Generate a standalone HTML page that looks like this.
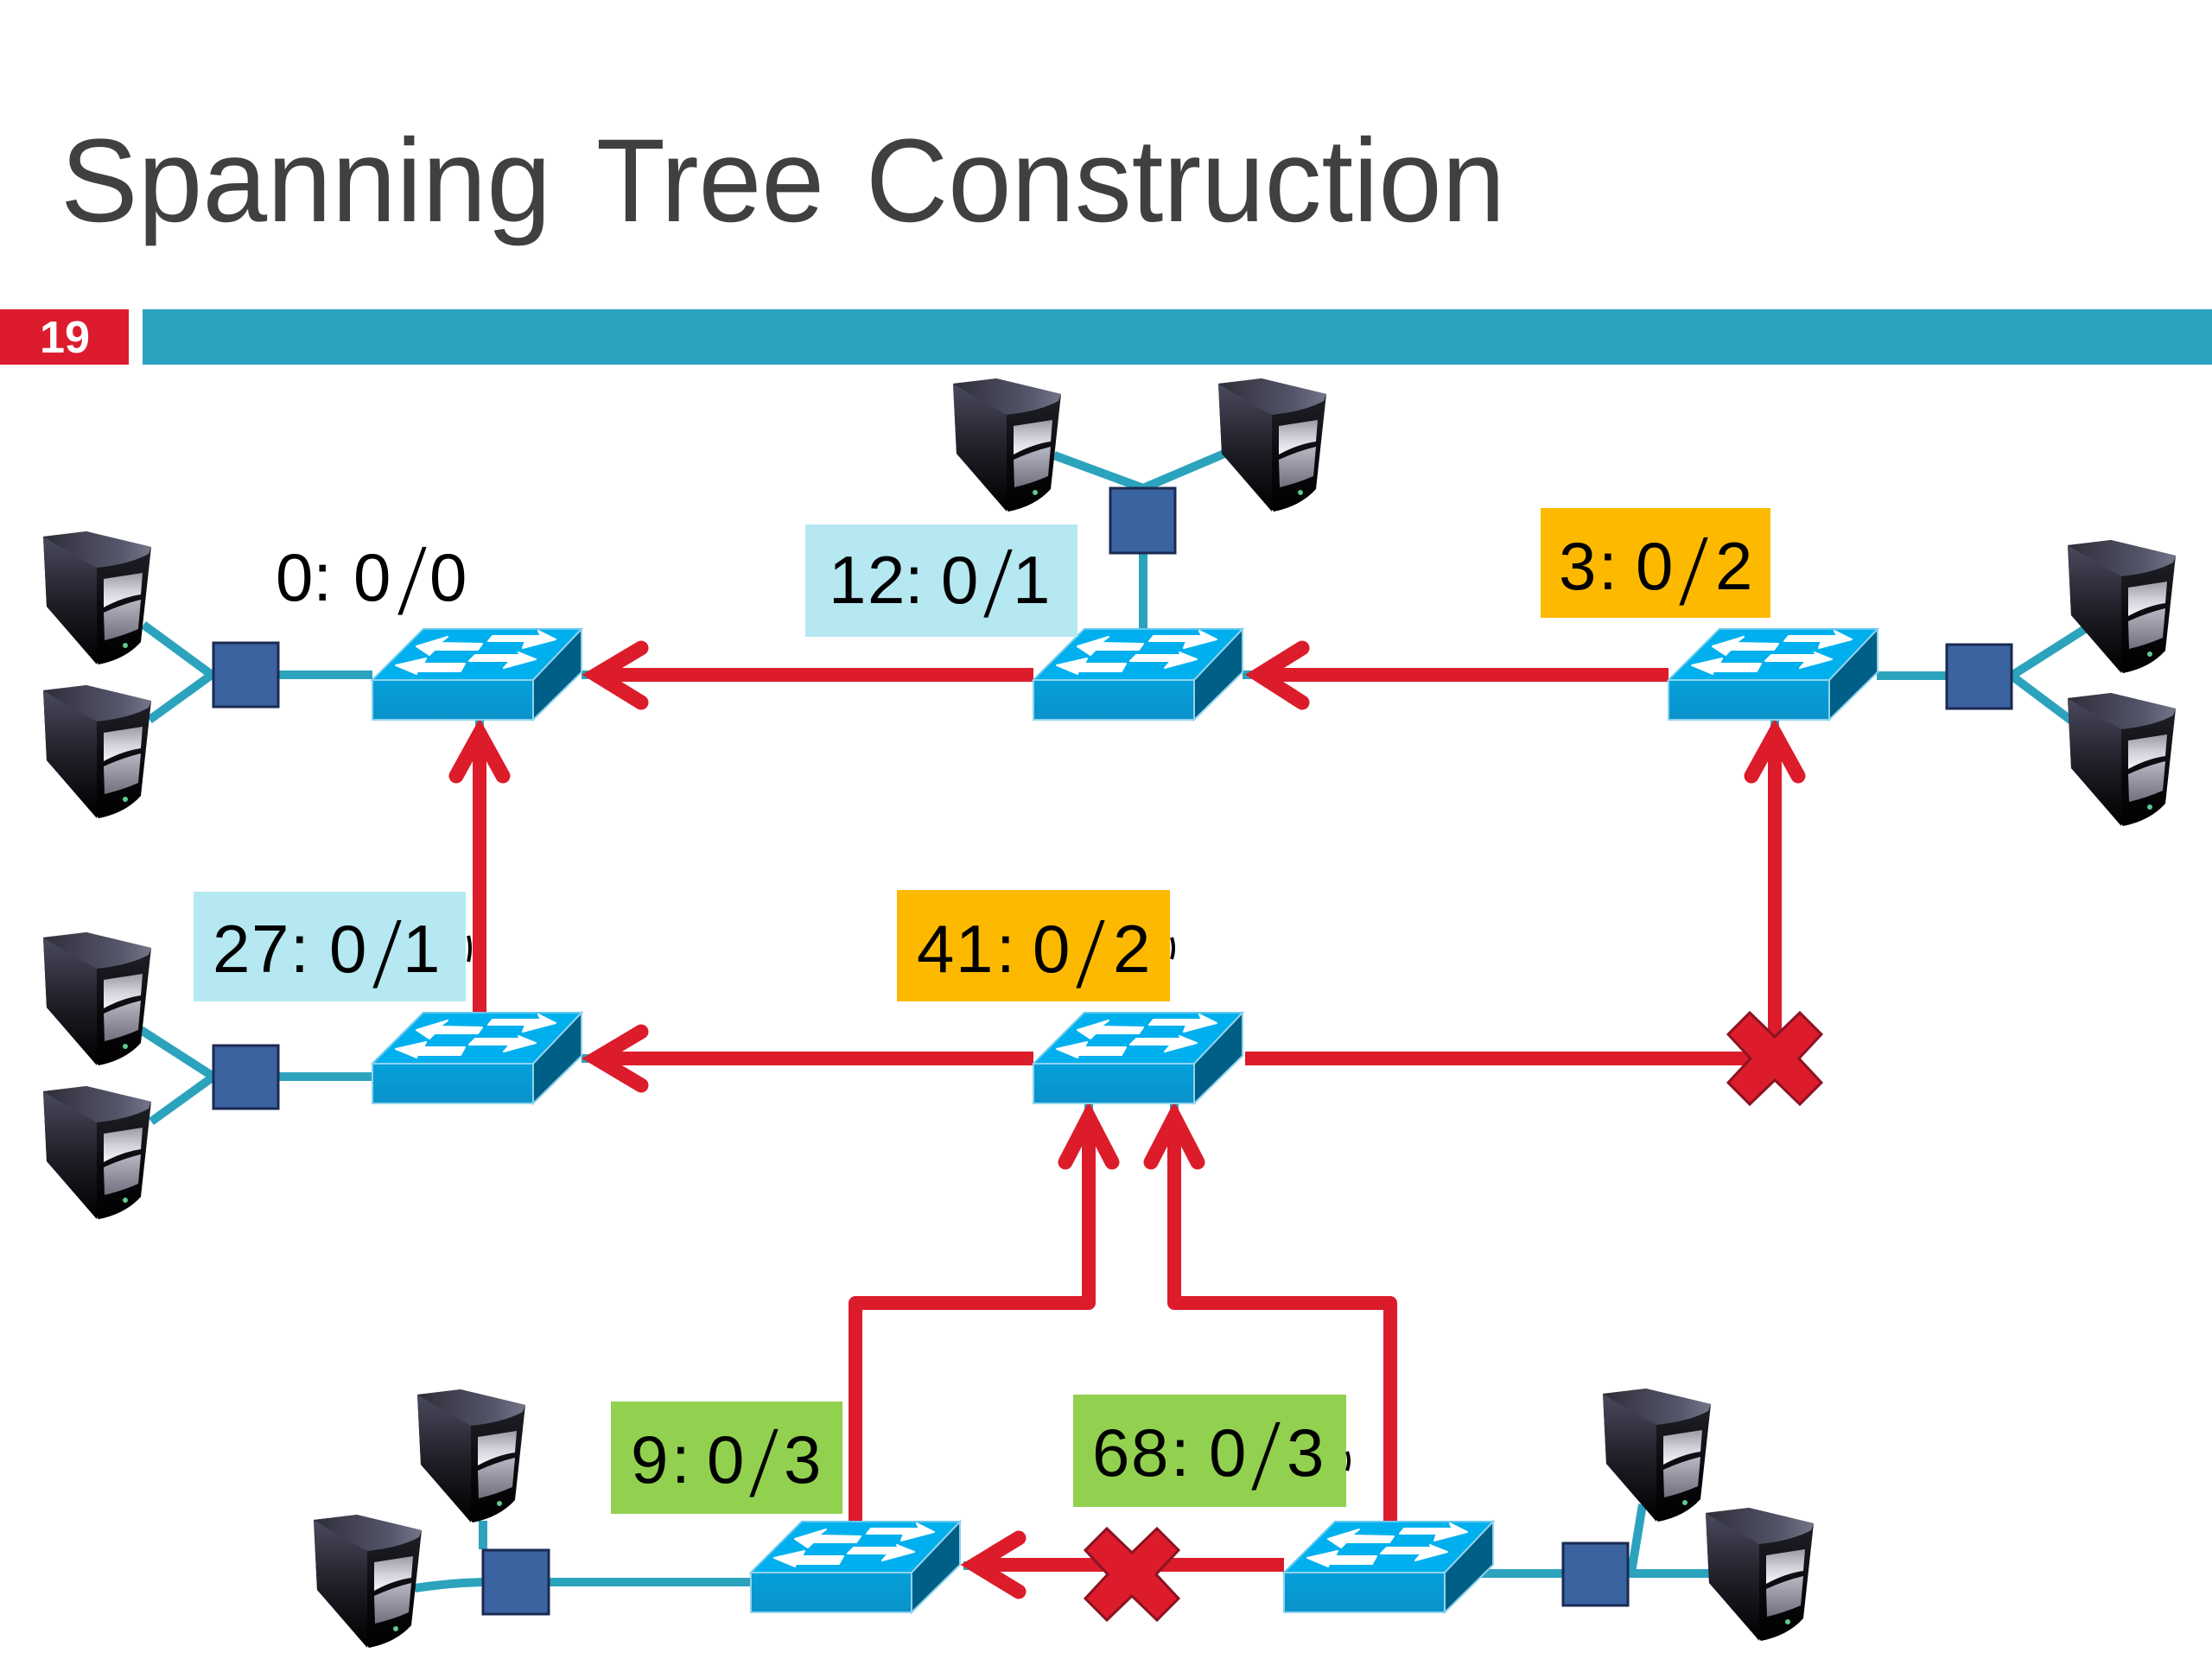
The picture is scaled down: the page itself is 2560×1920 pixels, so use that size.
<!DOCTYPE html>
<html><head><meta charset="utf-8"><title>Spanning Tree Construction</title>
<style>
html,body{margin:0;padding:0;background:#fff;width:2560px;height:1920px;overflow:hidden}
svg{display:block}
text{font-family:"Liberation Sans",sans-serif}
.l{font-size:78px;fill:#000}
.s{font-size:114px;fill:#000;stroke-width:5px}
.t{stroke:#2ba3bd;stroke-width:10;fill:none}
.r{stroke:#dc1c2b;stroke-width:16;fill:none;stroke-linejoin:round}
.h{stroke:#dc1c2b;stroke-width:17;fill:none;stroke-linecap:round;stroke-linejoin:miter;stroke-miterlimit:8}
.q{fill:#3a63a0;stroke:#1b2a52;stroke-width:3}
</style></head><body>
<svg width="2560" height="1920" viewBox="0 0 2560 1920" xmlns="http://www.w3.org/2000/svg">
<defs>
<linearGradient id="g1" x1="0" y1="0" x2="0" y2="1"><stop offset="0" stop-color="#4a4a5e"/><stop offset=".55" stop-color="#1c1c24"/><stop offset="1" stop-color="#000"/></linearGradient>
<linearGradient id="g2" x1="0" y1="0" x2="0" y2="1"><stop offset="0" stop-color="#25252e"/><stop offset=".6" stop-color="#0a0a0e"/><stop offset="1" stop-color="#000"/></linearGradient>
<linearGradient id="g3" x1="0" y1="0" x2="1" y2="0"><stop offset="0" stop-color="#2e2e3a"/><stop offset=".7" stop-color="#55556a"/><stop offset="1" stop-color="#75758a"/></linearGradient>
<linearGradient id="g4" x1="0" y1="0" x2="0" y2="1"><stop offset="0" stop-color="#9a9aa5"/><stop offset=".5" stop-color="#d0d0da"/><stop offset="1" stop-color="#f6f6fc"/></linearGradient>
<linearGradient id="g5" x1="0" y1="0" x2="0" y2="1"><stop offset="0" stop-color="#b8b8c4"/><stop offset="1" stop-color="#70707e"/></linearGradient>
<linearGradient id="g6" x1="0" y1="0" x2="0" y2="1"><stop offset="0" stop-color="#05a0da"/><stop offset="1" stop-color="#0a92ca"/></linearGradient>
<g id="srv">
<path d="M0 6 L50 0 L125 18 L113 128 Q95 148 64 154 L4 87 Z" fill="url(#g2)"/>
<path d="M0 6 L62 42 L62 154 L4 87 Z" fill="url(#g1)"/>
<path d="M0 6 L50 0 L125 18 L122 26 Q100 38 62 42 Q30 25 0 6 Z" fill="url(#g3)"/>
<path d="M70 55 L115 48 L113 73 Q92 76 70 88 Z" fill="url(#g4)"/>
<path d="M70 94 Q92 84 113 79 L110 113 Q92 121 71 126 Z" fill="url(#g5)"/>
<circle cx="95" cy="132" r="3" fill="#5fc98f"/>
</g>
<g id="sw">
<path d="M0 59 L59 0 L242 0 L186 59 Z" fill="#00b0ee" stroke="#63c8ee" stroke-width="2"/>
<path d="M0 59 H186 V105 H0 Z" fill="url(#g6)" stroke="#8fd3ee" stroke-width="2"/>
<path d="M186 59 L242 0 V50 L186 105 Z" fill="#005f86" stroke="#8fd3ee" stroke-width="2"/>
<g fill="#fff" stroke="#fff" stroke-width="2" stroke-linejoin="round">
<path d="M51 20 L87 9 L78 16 L127 17 L122 24 L72 24 L66 30 Z"/>
<path d="M27 42 L62 34 L59 40 L107 40 L102 49 L52 49 L51 52 Z"/>
<path d="M212 12 L192 2 L195 8 L139 8 L134 14 L177 14 L174 22 Z"/>
<path d="M189 35 L169 27 L171 30 L119 30 L112 37 L159 37 L152 45 Z"/>
</g>
</g>
<path id="x" d="M-29 -53 L0 -25 L29 -53 L54 -28 L28 0 L54 28 L29 53 L0 25 L-29 53 L-54 28 L-28 0 L-54 -28 Z" fill="#dc1c2b" stroke="#8b1322" stroke-width="3"/>
</defs>

<!-- title -->
<g font-size="137" fill="#404040">
<text x="70" y="256" textLength="568" lengthAdjust="spacingAndGlyphs">Spanning</text>
<text x="690" y="256" textLength="264" lengthAdjust="spacingAndGlyphs">Tree</text>
<text x="1002" y="256" textLength="740" lengthAdjust="spacingAndGlyphs">Construction</text>
</g>
<rect x="0" y="358" width="149" height="64" fill="#dc1c2e"/>
<rect x="165" y="358" width="2395" height="64" fill="#2ca1bf"/>
<text x="46" y="408" font-size="52" fill="#fff" font-weight="bold" textLength="58" lengthAdjust="spacingAndGlyphs">19</text>

<!-- teal links -->
<g class="t">
<path d="M166 723 L245 781 M173 833 L245 781 M322 781 H431"/>
<path d="M1220 527 L1323 565 M1417 525 L1323 565 M1323 640 V728"/>
<path d="M2172 782 H2253 M2328 782 L2413 728 M2328 782 L2400 836"/>
<path d="M163 1192 L247 1246 M175 1298 L247 1246 M322 1246 H431"/>
<path d="M559 1760 V1793 M480 1838 Q520 1832 559 1831 M635 1831 H869"/>
<path d="M1712 1821 H1808 M1885 1821 H1985 M1888 1820 L1901 1741"/>
<path d="M673 781 H690 M1438 781 H1452 M555 833 V845 M1260 1277 V1290 M1359 1277 V1290 M2054 833 V845 M673 1225 H690 M1115 1812 H1128"/>
</g>

<!-- red links -->
<g>
<path class="r" d="M695 781 H1196 M1462 781 H1931"/>
<path class="r" d="M555 855 V1172 M2054 855 V1225"/>
<path class="r" d="M695 1225 H1196 M1441 1225 H2054"/>
<path class="r" d="M1260 1295 V1508 H990 V1760" stroke-width="15"/>
<path class="r" d="M1359 1295 V1508 H1609 V1770" stroke-width="15"/>
<path class="r" d="M1135 1811 H1486"/>
<path class="h" d="M742 750 L690 781 L742 813"/>
<path class="h" d="M1507 750 L1457 781 L1507 813"/>
<path class="h" d="M742 1194 L690 1225 L742 1256"/>
<path class="h" d="M528 898 L555 849 L582 898"/>
<path class="h" d="M2027 898 L2054 849 L2081 898"/>
<path class="h" d="M1233 1345 L1260 1293 L1287 1345"/>
<path class="h" d="M1332 1345 L1359 1293 L1386 1345"/>
<path class="h" d="M1179 1780 L1128 1811 L1179 1842"/>
</g>
<use href="#x" x="2054" y="1225"/>
<use href="#x" x="1310" y="1822"/>

<!-- switches -->
<use href="#sw" x="431" y="728"/>
<use href="#sw" x="1196" y="728"/>
<use href="#sw" x="1931" y="728"/>
<use href="#sw" x="431" y="1172"/>
<use href="#sw" x="1196" y="1172"/>
<use href="#sw" x="869" y="1761"/>
<use href="#sw" x="1486" y="1761"/>

<!-- hubs -->
<rect class="q" x="247" y="744" width="75" height="74"/>
<rect class="q" x="1285" y="565" width="75" height="75"/>
<rect class="q" x="2253" y="746" width="75" height="74"/>
<rect class="q" x="247" y="1210" width="75" height="73"/>
<rect class="q" x="559" y="1794" width="76" height="74"/>
<rect class="q" x="1809" y="1786" width="75" height="72"/>

<!-- servers -->
<use href="#srv" x="50" y="615"/>
<use href="#srv" x="50" y="793"/>
<use href="#srv" x="1103" y="438"/>
<use href="#srv" x="1410" y="438"/>
<use href="#srv" x="2393" y="625"/>
<use href="#srv" x="2393" y="802"/>
<use href="#srv" x="50" y="1079"/>
<use href="#srv" x="50" y="1257"/>
<use href="#srv" x="483" y="1608"/>
<use href="#srv" x="363" y="1753"/>
<use href="#srv" x="1855" y="1607"/>
<use href="#srv" x="1974" y="1745"/>

<!-- labels -->
<rect x="932" y="607" width="315" height="130" fill="#b5e8f1"/>
<rect x="1783" y="588" width="266" height="127" fill="#fdb900"/>
<rect x="224" y="1032" width="315" height="127" fill="#b5e8f1"/>
<rect x="1038" y="1030" width="316" height="129" fill="#fdb900"/>
<rect x="707" y="1622" width="268" height="130" fill="#92d14f"/>
<rect x="1242" y="1614" width="316" height="130" fill="#92d14f"/>
<path d="M542 1083 Q546 1097 542 1113 M1356 1085 Q1360 1097 1356 1110 M1559 1680 Q1563 1690 1559 1702" stroke="#000" stroke-width="4" fill="none"/>

<text class="s" x="456" y="713" textLength="42" lengthAdjust="spacingAndGlyphs" stroke="#fff">/</text>
<text class="l" y="695"><tspan x="319">0: </tspan><tspan x="409">0</tspan><tspan x="497">0</tspan></text>

<text class="s" x="1134" y="716" textLength="42" lengthAdjust="spacingAndGlyphs" stroke="#b5e8f1">/</text>
<text class="l" y="698"><tspan x="959">1</tspan><tspan x="1004">2</tspan><tspan x="1047">: </tspan><tspan x="1089">0</tspan><tspan x="1172">1</tspan></text>

<text class="s" x="1939" y="702" textLength="42" lengthAdjust="spacingAndGlyphs" stroke="#fdb900">/</text>
<text class="l" y="682"><tspan x="1804">3</tspan><tspan x="1850">: </tspan><tspan x="1893">0</tspan><tspan x="1985">2</tspan></text>

<text class="s" x="427" y="1145" textLength="42" lengthAdjust="spacingAndGlyphs" stroke="#b5e8f1">/</text>
<text class="l" y="1125"><tspan x="246">2</tspan><tspan x="291">7</tspan><tspan x="336">: </tspan><tspan x="381">0</tspan><tspan x="466">1</tspan></text>

<text class="s" x="1241" y="1145" textLength="42" lengthAdjust="spacingAndGlyphs" stroke="#fdb900">/</text>
<text class="l" y="1125"><tspan x="1061">4</tspan><tspan x="1106">1</tspan><tspan x="1153">: </tspan><tspan x="1195">0</tspan><tspan x="1288">2</tspan></text>

<text class="s" x="863" y="1734" textLength="42" lengthAdjust="spacingAndGlyphs" stroke="#92d14f">/</text>
<text class="l" y="1716"><tspan x="730">9</tspan><tspan x="777">: </tspan><tspan x="818">0</tspan><tspan x="907">3</tspan></text>

<text class="s" x="1444" y="1726" textLength="42" lengthAdjust="spacingAndGlyphs" stroke="#92d14f">/</text>
<text class="l" y="1708"><tspan x="1264">6</tspan><tspan x="1309">8</tspan><tspan x="1355">: </tspan><tspan x="1399">0</tspan><tspan x="1489">3</tspan></text>
</svg>
</body></html>
